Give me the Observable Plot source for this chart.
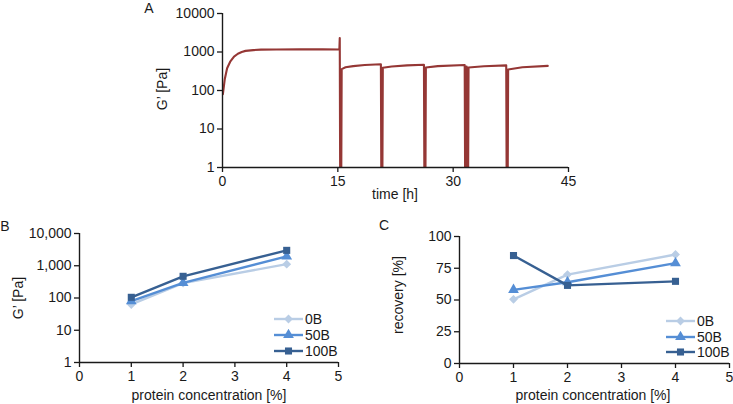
<!DOCTYPE html>
<html><head><meta charset="utf-8">
<script src="https://cdn.jsdelivr.net/npm/d3@7"></script>
<script src="https://cdn.jsdelivr.net/npm/@observablehq/plot@0.6"></script>
<style>
body{margin:0;background:#fff;}
#root{position:relative;width:733px;height:404px;font-family:"Liberation Sans",Arial,sans-serif;color:#1a1a1a;overflow:hidden;background:#fff}
.t{position:absolute;white-space:nowrap;font-size:14px;line-height:1;transform:translate(-50%,-50%)}
.rot{transform:translate(-50%,-50%) rotate(-90deg)}
.panel{position:absolute}
.leg{position:absolute;display:flex;align-items:center;font-size:14px;line-height:1;white-space:nowrap}
</style></head><body><div id="root"></div>
<script>
// ---- Panel A data: time series of G' ----
const timeH = [0.05,0.3,0.6,1.0,1.5,2.0,2.5,3.0,4.0,5.0,7.0,10,13,15.2,15.25,15.3,15.45,15.5,16,17,18.5,20.6,20.65,20.8,20.85,22,24,26.2,26.25,26.4,26.45,28,31.5,31.55,31.7,31.75,31.8,31.95,32.0,34,36.9,36.95,37.1,37.15,39,42.3];
const gPrimeA = [80,200,380,560,760,900,1000,1070,1120,1150,1165,1170,1170,1165,2300,1,1,360,400,430,460,480,1,1,390,420,450,465,1,1,395,430,460,1,1,420,1,1,395,425,450,1,1,350,400,435];
const xTicksA = [0,15,30,45];
const yTicksA = [1,10,100,1000,10000];

// ---- Panels B and C data ----
const concentration = [1,2,4];
const seriesNames = ["0B","50B","100B"];
const gB_0B = [63,290,1120];
const gB_50B = [80,295,1950];
const gB_100B = [105,470,3000];
const rec_0B = [50.5,70,85.8];
const rec_50B = [58,64,79];
const rec_100B = [85,61.5,64.7];
const xTicksBC = [0,1,2,3,4,5];
const yTicksB = [1,10,100,1000,10000];
const yTicksC = [0,25,50,75,100];
const seriesColors = ["#b9cde5","#558ed5","#376092"];
const seriesSymbols = ["diamond2","triangle","square"];

const FONT = '"Liberation Sans", Arial, sans-serif';
const INK = "#1a1a1a";
const root = document.getElementById("root");

function place(el, left, top){ el.style.left = left+"px"; el.style.top = top+"px"; root.appendChild(el); }
function text(str, x, y, rot){ const d=document.createElement("div"); d.className = "t"+(rot?" rot":""); d.textContent=str; place(d,x,y); }

function axes(xTicks, yTicks, yFmt, y0){
  return [
    Plot.axisX({ticks:xTicks, tickSize:5, tickPadding:4, label:null, fontSize:14, strokeWidth:1.3, tickFormat:d=>String(d), color:INK}),
    Plot.axisY({ticks:yTicks, tickSize:5, tickPadding:3, label:null, fontSize:14, strokeWidth:1.3, tickFormat:yFmt, color:INK}),
    Plot.ruleX([0], {stroke:INK, strokeWidth:1.4}),
    Plot.ruleY([y0], {stroke:INK, strokeWidth:1.4})
  ];
}

// ---- Panel A ----
const dataA = timeH.map((t,i)=>({t, g:gPrimeA[i]}));
const plotA = Plot.plot({
  width:440, height:200, marginLeft:82, marginRight:12, marginTop:13, marginBottom:33,
  style:{fontFamily:FONT, fontSize:"14px", color:INK, background:"transparent", overflow:"visible"},
  x:{domain:[0,45]}, y:{type:"log", domain:[1,10000]},
  marks:[
    Plot.line(dataA, {x:"t", y:"g", stroke:"#953735", strokeWidth:2.1, clip:true}),
    ...axes(xTicksA, yTicksA, d=>String(d), 1)
  ]
});
const pA = document.createElement("div"); pA.className="panel"; pA.appendChild(plotA); place(pA,140,0);

// ---- Panels B, C ----
function longData(arrs){
  const out=[];
  seriesNames.forEach((s,k)=>concentration.forEach((c,i)=>out.push({s, c, v:arrs[k][i]})));
  return out;
}
function seriesMarks(data){
  const m=[];
  seriesNames.forEach((s,k)=>{
    const d = data.filter(r=>r.s===s);
    m.push(Plot.line(d, {x:"c", y:"v", stroke:seriesColors[k], strokeWidth:2.4}));
    m.push(Plot.dot(d, {x:"c", y:"v", symbol:()=>seriesSymbols[k], fill:seriesColors[k], stroke:"none", r:4}));
  });
  return m;
}
const commaFmt = d3.format(",");
const plotB = Plot.plot({
  width:345, height:204, marginLeft:79, marginRight:7, marginTop:33, marginBottom:42,
  style:{fontFamily:FONT, fontSize:"14px", color:INK, background:"transparent", overflow:"visible"},
  x:{domain:[0,5]}, y:{type:"log", domain:[1,10000]},
  symbol:{type:"identity"},
  marks:[ ...seriesMarks(longData([gB_0B,gB_50B,gB_100B])), ...axes(xTicksBC, yTicksB, d=>commaFmt(d), 1) ]
});
const pB = document.createElement("div"); pB.className="panel"; pB.appendChild(plotB); place(pB,0,200);

const plotC = Plot.plot({
  width:353, height:204, marginLeft:79, marginRight:4, marginTop:36, marginBottom:41,
  style:{fontFamily:FONT, fontSize:"14px", color:INK, background:"transparent", overflow:"visible"},
  x:{domain:[0,5]}, y:{domain:[0,100]},
  symbol:{type:"identity"},
  marks:[ ...seriesMarks(longData([rec_0B,rec_50B,rec_100B])), ...axes(xTicksBC, yTicksC, d=>String(d), 0) ]
});
const pC = document.createElement("div"); pC.className="panel"; pC.appendChild(plotC); place(pC,380,200);

// ---- Legends ----
const symMap = {diamond2:d3.symbolDiamond2, triangle:d3.symbolTriangle, square:d3.symbolSquare};
function legend(x, ys){
  seriesNames.forEach((s,k)=>{
    const d=document.createElement("div"); d.className="leg";
    const ns="http://www.w3.org/2000/svg";
    const svg=document.createElementNS(ns,"svg"); svg.setAttribute("width","30"); svg.setAttribute("height","12");
    const ln=document.createElementNS(ns,"line"); ln.setAttribute("x1","0"); ln.setAttribute("x2","29"); ln.setAttribute("y1","6"); ln.setAttribute("y2","6");
    ln.setAttribute("stroke",seriesColors[k]); ln.setAttribute("stroke-width","2.4"); svg.appendChild(ln);
    const p=document.createElementNS(ns,"path"); p.setAttribute("d", d3.symbol(symMap[seriesSymbols[k]], 50)()); p.setAttribute("transform","translate(14.5,6)"); p.setAttribute("fill",seriesColors[k]); svg.appendChild(p);
    d.appendChild(svg);
    const sp=document.createElement("span"); sp.textContent=s; sp.style.marginLeft="1px"; d.appendChild(sp);
    place(d, x, ys[k]-7);
  });
}
legend(274, [319,335,351]);
legend(666, [321,337,352]);

// ---- Labels ----
text("A",149,8); text("B",5,226); text("C",384,225);
text("G\u2019 [Pa]",162,89,true);
text("G\u2019 [Pa]",18,298,true);
text("recovery [%]",398,295,true);
text("time [h]",395,194);
text("protein concentration [%]",209,395);
text("protein concentration [%]",593,395);
</script></body></html>
